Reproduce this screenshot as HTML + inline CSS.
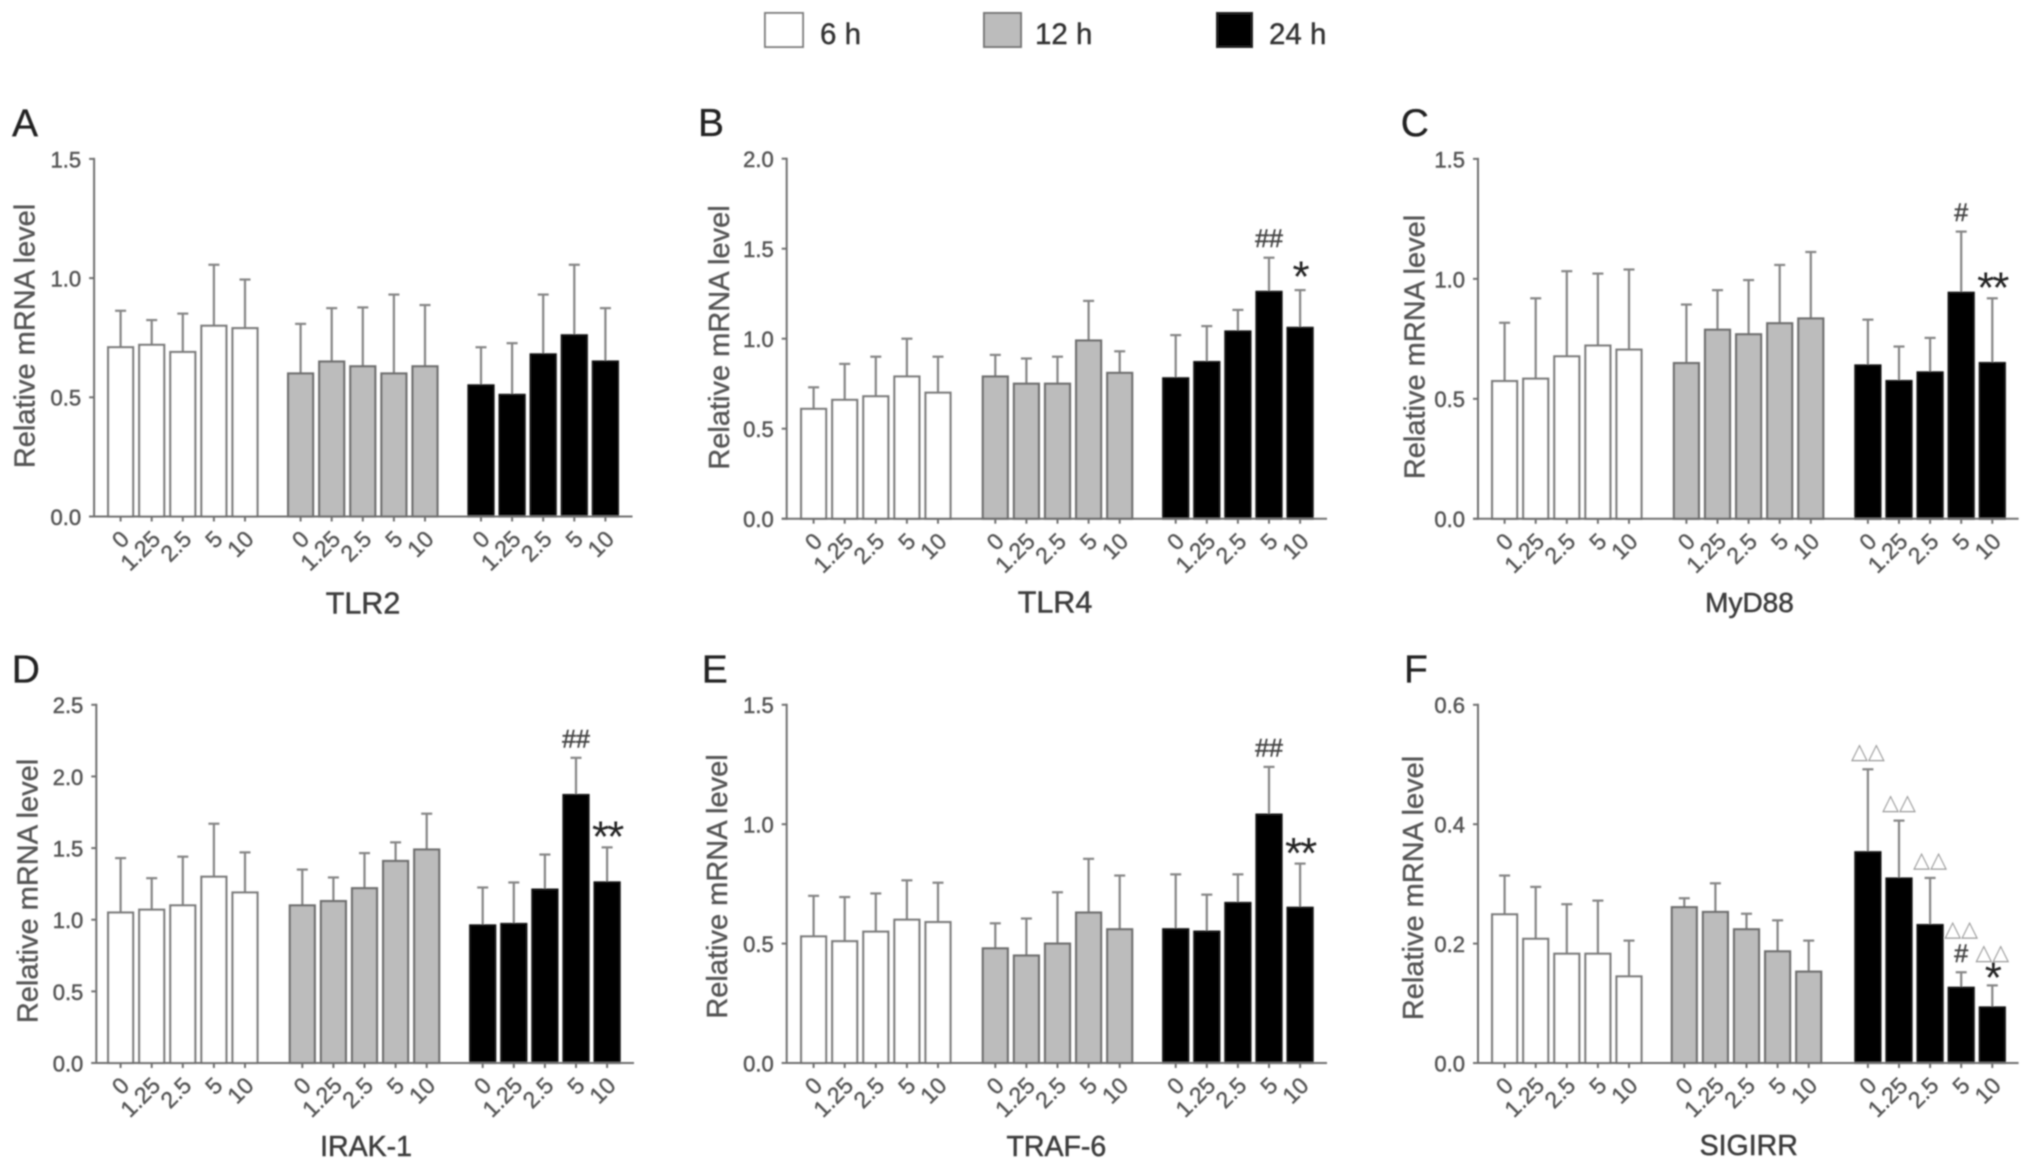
<!DOCTYPE html>
<html lang="en">
<head>
<meta charset="utf-8">
<title>Relative mRNA levels at 6, 12 and 24 h</title>
<style>
html,body{margin:0;padding:0;background:#fff;width:2031px;height:1168px;overflow:hidden}
svg{display:block}
text{font-family:"Liberation Sans",Arial,sans-serif}
</style>
</head>
<body>
<svg id="figure" xmlns="http://www.w3.org/2000/svg" width="2031" height="1168" viewBox="0 0 2031 1168">
  <defs>
    <filter id="soft" filterUnits="userSpaceOnUse" x="0" y="0" width="2031" height="1168">
      <feGaussianBlur stdDeviation="0.7"/>
    </filter>
  </defs>
  <rect x="0" y="0" width="2031" height="1168" fill="#fff"/>
  <g id="root" filter="url(#soft)">
    <g>
      <rect x="765" y="13" width="38" height="34" fill="#fff" stroke="#808080" stroke-width="2"/>
      <text x="820" y="44" font-size="29.5" fill="#333" stroke="#333" stroke-width="0.4">6 h</text>
      <rect x="984" y="13" width="37" height="34" fill="#bcbcbc" stroke="#777" stroke-width="2"/>
      <text x="1035" y="44" font-size="29.5" fill="#333" stroke="#333" stroke-width="0.4">12 h</text>
      <rect x="1217" y="13" width="35" height="34" fill="#000" stroke="#222" stroke-width="2"/>
      <text x="1269" y="44" font-size="29.5" fill="#333" stroke="#333" stroke-width="0.4">24 h</text>
    </g>
  </g>
</svg>
<script>
// Chart data: categories, tick labels and series values.
const doseLabels = ['0', '1.25', '2.5', '5', '10'];
const timeGroups = ['6h', '12h', '24h'];

const tlr2Ticks = ['0.0', '0.5', '1.0', '1.5'];
const tlr2Means = [0.71, 0.72, 0.69, 0.80, 0.79, 0.60, 0.65, 0.63, 0.60, 0.63, 0.55, 0.51, 0.68, 0.76, 0.65];
const tlr2Sds = [0.153, 0.104, 0.161, 0.256, 0.204, 0.208, 0.224, 0.247, 0.331, 0.257, 0.16, 0.217, 0.251, 0.296, 0.224];
const tlr2Notes = [];

const tlr4Ticks = ['0.0', '0.5', '1.0', '1.5', '2.0'];
const tlr4Means = [0.61, 0.66, 0.68, 0.79, 0.70, 0.79, 0.75, 0.75, 0.99, 0.81, 0.78, 0.87, 1.04, 1.26, 1.06];
const tlr4Sds = [0.12, 0.20, 0.22, 0.21, 0.20, 0.12, 0.14, 0.15, 0.22, 0.12, 0.24, 0.20, 0.12, 0.19, 0.21];
const tlr4Notes = [[13, ['##']], [14, ['*']]];

const myd88Ticks = ['0.0', '0.5', '1.0', '1.5'];
const myd88Means = [0.574, 0.584, 0.677, 0.722, 0.705, 0.649, 0.788, 0.769, 0.815, 0.835, 0.639, 0.574, 0.61, 0.942, 0.649];
const myd88Sds = [0.243, 0.335, 0.355, 0.30, 0.334, 0.244, 0.165, 0.226, 0.243, 0.277, 0.191, 0.144, 0.144, 0.255, 0.27];
const myd88Notes = [[13, ['#']], [14, ['**']]];

const irak1Ticks = ['0.0', '0.5', '1.0', '1.5', '2.0', '2.5'];
const irak1Means = [1.05, 1.07, 1.10, 1.30, 1.19, 1.10, 1.13, 1.22, 1.41, 1.49, 0.96, 0.97, 1.21, 1.87, 1.26];
const irak1Sds = [0.38, 0.22, 0.34, 0.37, 0.28, 0.25, 0.165, 0.245, 0.13, 0.25, 0.265, 0.29, 0.245, 0.26, 0.245];
const irak1Notes = [[13, ['##']], [14, ['**']]];

const traf6Ticks = ['0.0', '0.5', '1.0', '1.5'];
const traf6Means = [0.53, 0.51, 0.55, 0.60, 0.59, 0.48, 0.45, 0.50, 0.63, 0.56, 0.56, 0.55, 0.67, 1.04, 0.65];
const traf6Sds = [0.17, 0.185, 0.16, 0.165, 0.165, 0.105, 0.155, 0.215, 0.225, 0.225, 0.23, 0.155, 0.12, 0.20, 0.185];
const traf6Notes = [[13, ['##']], [14, ['**']]];

const sigirrTicks = ['0.0', '0.2', '0.4', '0.6'];
const sigirrMeans = [0.249, 0.208, 0.183, 0.183, 0.145, 0.261, 0.253, 0.224, 0.187, 0.153, 0.353, 0.309, 0.231, 0.126, 0.093];
const sigirrSds = [0.065, 0.087, 0.083, 0.089, 0.06, 0.015, 0.048, 0.026, 0.052, 0.052, 0.139, 0.097, 0.079, 0.026, 0.037];
const sigirrNotes = [[10, ['△△']], [11, ['△△']], [12, ['△△']], [13, ['#', '△△']], [14, ['*', '△△']]];

const panels = [
  { key: 'tlr2', letter: 'A', title: 'TLR2', ticks: tlr2Ticks, means: tlr2Means, sds: tlr2Sds, notes: tlr2Notes,
    box: { axisX: 94.1, axisEnd: 632.5, top: 158.9, zero: 516.5, groupStarts: [120.6, 300.6, 481], letterX: 12, letterY: 136.5, titleX: 363, titleY: 613.5, titleSize: 30.5, yTitleX: 34.7, yTitleY: 336, starLift: 0 } },
  { key: 'tlr4', letter: 'B', title: 'TLR4', ticks: tlr4Ticks, means: tlr4Means, sds: tlr4Sds, notes: tlr4Notes,
    box: { axisX: 786.7, axisEnd: 1327, top: 158.7, zero: 518.7, groupStarts: [813.6, 995.3, 1175.7], letterX: 698, letterY: 135.8, titleX: 1055, titleY: 612.7, titleSize: 30.5, yTitleX: 729, yTitleY: 337.5, starLift: 3 } },
  { key: 'myd88', letter: 'C', title: 'MyD88', ticks: myd88Ticks, means: myd88Means, sds: myd88Sds, notes: myd88Notes,
    box: { axisX: 1478, axisEnd: 2018.6, top: 158.9, zero: 518.8, groupStarts: [1504.6, 1686.4, 1867.9], letterX: 1400.8, letterY: 135.8, titleX: 1749.5, titleY: 611.8, titleSize: 28, yTitleX: 1424.4, yTitleY: 347, starLift: 0 } },
  { key: 'irak1', letter: 'D', title: 'IRAK-1', ticks: irak1Ticks, means: irak1Means, sds: irak1Sds, notes: irak1Notes,
    box: { axisX: 96.3, axisEnd: 634, top: 704.8, zero: 1063, groupStarts: [120.6, 302.3, 482.7], letterX: 11.7, letterY: 682.5, titleX: 366, titleY: 1156, titleSize: 28.5, yTitleX: 37.7, yTitleY: 891, starLift: 0 } },
  { key: 'traf6', letter: 'E', title: 'TRAF-6', ticks: traf6Ticks, means: traf6Means, sds: traf6Sds, notes: traf6Notes,
    box: { axisX: 786.7, axisEnd: 1327, top: 704.8, zero: 1063, groupStarts: [813.6, 995.3, 1175.7], letterX: 701.7, letterY: 682.5, titleX: 1056.4, titleY: 1156, titleSize: 28.5, yTitleX: 726.8, yTitleY: 886.5, starLift: 0 } },
  { key: 'sigirr', letter: 'F', title: 'SIGIRR', ticks: sigirrTicks, means: sigirrMeans, sds: sigirrSds, notes: sigirrNotes,
    box: { axisX: 1478, axisEnd: 2018.6, top: 704.8, zero: 1063, groupStarts: [1504.6, 1684.3, 1867.9], letterX: 1404, letterY: 682.5, titleX: 1748.7, titleY: 1155, titleSize: 28.5, yTitleX: 1422.8, yTitleY: 888, starLift: -3 } }
];

const NS = 'http://www.w3.org/2000/svg';
const root = document.getElementById('root');
const BAR_PITCH = 31.1;
const BAR_WIDTH = 25;
const AXIS_COLOR = '#707070';
const LABEL_COLOR = '#555';
const groupStyle = {
  '6h': { fill: '#ffffff', stroke: '#7c7c7c' },
  '12h': { fill: '#bcbcbc', stroke: '#6e6e6e' },
  '24h': { fill: '#000000', stroke: '#111111' }
};

function add(parent, tag) {
  const el = document.createElementNS(NS, tag);
  parent.appendChild(el);
  return el;
}
function setAll(el, props) {
  for (const k in props) el.setAttribute(k, props[k]);
  return el;
}
function noteStyle(sym) {
  if (sym.indexOf('△') >= 0) return { size: 22, drop: 5.5, fill: '#9a9a9a', family: '"DejaVu Sans",sans-serif', first: 16.5, stack: 0, weight: 0, spacing: 0 };
  if (sym.indexOf('#') >= 0) return { size: 25, drop: 9, fill: '#444', family: '"Liberation Sans",sans-serif', first: 19.5, stack: 22.5, weight: 0.5, spacing: 0 };
  return { size: 44, drop: 19.7, fill: '#222', family: '"Liberation Sans",sans-serif', first: 15.5, stack: 19, weight: 0, spacing: -2 };
}

panels.forEach(function (p) {
  const b = p.box;
  const yMax = parseFloat(p.ticks[p.ticks.length - 1]);
  const yScale = function (v) { return b.zero - (v / yMax) * (b.zero - b.top); };
  const xScale = function (i) {
    const g = Math.floor(i / doseLabels.length);
    const d = i % doseLabels.length;
    return b.groupStarts[g] + d * BAR_PITCH;
  };

  const panel = add(root, 'g');
  
  

  const letter = add(panel, 'text');
  
  
  setAll(letter, { x: b.letterX, y: b.letterY, 'font-size': 39, fill: '#222', stroke: '#222', 'stroke-width': 0.3 });
  letter.textContent = p.letter;

  const yTitle = add(panel, 'text');
  
  
  setAll(yTitle, { 'font-size': 29, fill: LABEL_COLOR, stroke: LABEL_COLOR, 'stroke-width': 0.4, 'text-anchor': 'middle', transform: 'translate(' + b.yTitleX + ',' + b.yTitleY + ') rotate(-90)' });
  yTitle.textContent = 'Relative mRNA level';

  const xTitle = add(panel, 'text');
  
  
  setAll(xTitle, { x: b.titleX, y: b.titleY, 'font-size': b.titleSize, fill: '#3c3c3c', stroke: '#3c3c3c', 'stroke-width': 0.5, 'text-anchor': 'middle' });
  xTitle.textContent = p.title;

  // bars and error bars
  p.means.forEach(function (mean, i) {
    const groupKey = timeGroups[Math.floor(i / doseLabels.length)];
    const style = groupStyle[groupKey];
    const cx = xScale(i);
    const yTop = yScale(mean);
    const yErr = yScale(mean + p.sds[i]);

    const errLine = add(panel, 'line');
    
    
    setAll(errLine, { x1: cx, x2: cx, y1: yTop, y2: yErr, stroke: '#858585', 'stroke-width': 2.2 });

    const errCap = add(panel, 'line');
    
    
    setAll(errCap, { x1: cx - 5.5, x2: cx + 5.5, y1: yErr, y2: yErr, stroke: '#858585', 'stroke-width': 2.2 });

    const bar = add(panel, 'rect');
    
    
    setAll(bar, { x: cx - BAR_WIDTH / 2, y: yTop, width: BAR_WIDTH, height: b.zero - yTop, fill: style.fill, stroke: style.stroke, 'stroke-width': 2.2 });

    const tick = add(panel, 'line');
    
    
    setAll(tick, { x1: cx, x2: cx, y1: b.zero, y2: b.zero + 5, stroke: AXIS_COLOR, 'stroke-width': 2 });

    const tickLabel = add(panel, 'text');
    
    
    setAll(tickLabel, { 'font-size': 23, fill: LABEL_COLOR, stroke: LABEL_COLOR, 'stroke-width': 0.4, 'text-anchor': 'end', transform: 'translate(' + (cx + 10) + ',' + (b.zero + 24) + ') rotate(-45)' });
    tickLabel.textContent = doseLabels[i % doseLabels.length];
  });

  // axes
  const yAxis = add(panel, 'line');
  
  
  setAll(yAxis, { x1: b.axisX, x2: b.axisX, y1: b.top - 1, y2: b.zero + 1, stroke: AXIS_COLOR, 'stroke-width': 2 });

  const xAxis = add(panel, 'line');
  
  
  setAll(xAxis, { x1: b.axisX - 5, x2: b.axisEnd, y1: b.zero, y2: b.zero, stroke: AXIS_COLOR, 'stroke-width': 2 });

  p.ticks.forEach(function (label) {
    const ty = yScale(parseFloat(label));

    const yTick = add(panel, 'line');
    
    
    setAll(yTick, { x1: b.axisX - 5, x2: b.axisX, y1: ty, y2: ty, stroke: AXIS_COLOR, 'stroke-width': 2 });

    const yLabel = add(panel, 'text');
    
    
    setAll(yLabel, { x: b.axisX - 13, y: ty + 8.4, 'font-size': 22, fill: LABEL_COLOR, stroke: LABEL_COLOR, 'stroke-width': 0.5, 'text-anchor': 'end' });
    yLabel.textContent = label;
  });

  // significance marks
  p.notes.forEach(function (note) {
    const i = note[0];
    const cx = xScale(i);
    let centre = yScale(p.means[i] + p.sds[i]);
    let prev = null;
    note[1].forEach(function (sym) {
      const s = noteStyle(sym);
      centre -= prev ? noteStyle(prev).stack : s.first;
      if (sym === '*') centre -= b.starLift;
      const mark = add(panel, 'text');
      
      
      setAll(mark, { x: cx, y: centre + s.drop, 'font-size': s.size, fill: s.fill, stroke: s.fill, 'stroke-width': s.weight, 'letter-spacing': s.spacing, 'text-anchor': 'middle' });
      mark.style.fontFamily = s.family;
      mark.textContent = sym;
      prev = sym;
    });
  });
});
</script>
</body>
</html>
